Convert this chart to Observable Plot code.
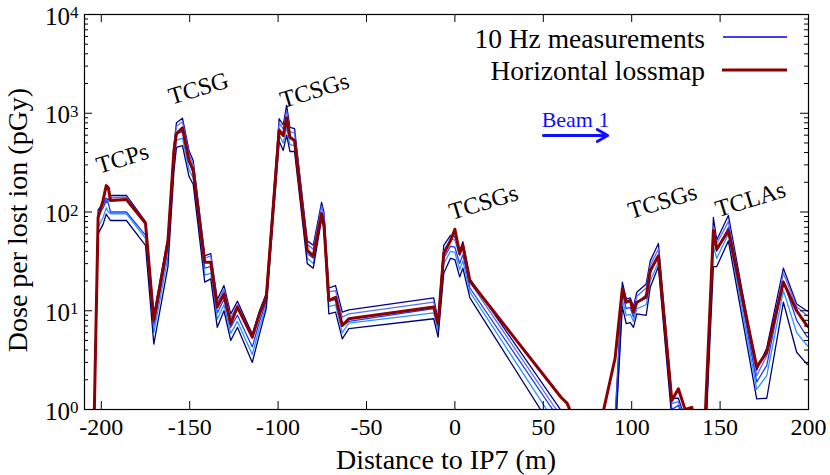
<!DOCTYPE html>
<html><head><meta charset="utf-8">
<script src="https://cdn.jsdelivr.net/npm/d3@7"></script>
<script src="https://cdn.jsdelivr.net/npm/@observablehq/plot@0.6"></script>
<style>
body{margin:0;background:#fff;}
#chart{width:830px;height:475px;}
</style></head><body><div id="chart"></div>
<script>
// BLM positions along the beam line (m from IP7)
const positions = [-204.5,-201.8,-199,-197.2,-196,-194.8,-185.8,-175,-170.3,-162.3,-158.9,-157.5,-154.1,-150.4,-148,-141.5,-138.1,-134.4,-130.6,-126.8,-123,-114.6,-110.5,-106.7,-99.4,-97.1,-95.2,-93.3,-90.7,-83.5,-80.1,-75.4,-74.1,-71.3,-67.5,-63.7,-60,-12,-9.5,-6.3,-2.5,0,2.7,4.5,8.5,60,63.4,65.5,70,80,84,90.6,94.7,96.9,99.2,101,102.9,108.2,110.5,115.1,122.7,126.4,130.2,134,137.5,141.7,146.2,148.1,154.7,170.7,176.4,185.8,193.3,199,200.5];
// Horizontal lossmap (pGy per lost ion)
const lossmap = [0.3,88,131,185,176,131,134,77,8,51,420,620,710,333,264,31,31,10.9,14.8,7.4,10.9,5.4,9.3,13.7,670,595,900,572,530,41,36,96,76,12.7,13.7,7.1,8.3,10.9,7.4,38,51,67,38,46,20,1.33,1.16,0.95,0.1,0.1,0.97,3.3,16.7,12.2,12.7,9.7,12.2,13.7,25.6,36,1.23,1.62,1.0,1.05,0.6,0.95,65,42,65,2.7,3.8,19.5,10,7.1,6.8];
// 10 Hz measurements (five acquisitions)
const meas1 = [0.3,105,122,138,132,147,147,80,9,55,470,800,890,420,330,36,38,13,18,9.3,12.5,5.8,10,15,880,760,1200,720,700,51,46,125,100,17,18,9.7,10.2,13.5,8,46,58,56,40,50,21,0.98,0.8,0.6,0.1,0.1,0.15,0.8,19.5,13.2,13.5,11,15.4,18.7,32,48,1.3,1.3,0.8,0.7,0.5,0.5,88,52,92,2.5,4.2,27,11.7,10,9.8];
const meas2 = [0.3,100,118,135,128,140,141,77,8.5,52,440,740,820,390,300,34,36,12,16.5,8.5,11.5,5.3,9.3,14,800,690,1050,650,630,47,42,115,92,15.5,16,8.6,9.3,12.2,7.4,40,54,52,36,44,19.5,0.85,0.7,0.5,0.1,0.1,0.15,0.7,17,12.5,12.8,10.2,14,17,29,42,1.15,1.2,0.75,0.6,0.5,0.5,70,48,80,2.2,3.5,24,11,9,8.8];
const meas3 = [0.3,92,110,130,122,100,100,58,7,42,360,610,660,320,250,27,28,9.5,13,6.8,9,4.3,7.8,12.5,700,600,860,560,520,38,34,100,80,12.5,13,7,7.8,10.5,6.8,34,45,44,30,37,17,0.75,0.65,0.45,0.1,0.1,0.15,0.6,15,10.5,10.8,8.6,12,14.5,24,36,1.0,1.1,0.7,0.6,0.5,0.5,58,40,70,1.9,2.8,20,8,5.5,5.3];
const meas4 = [0.3,70,88,110,100,96,96,54,6,35,310,530,560,270,220,23,24,8.2,11.5,5.9,7.8,3.6,6.8,11.5,600,500,720,480,470,34,30,92,74,11,11.5,6,7.5,9.5,6.2,30,40,39,26,32,15.5,0.6,0.52,0.4,0.1,0.1,0.15,0.5,13,9,9.2,7.8,10.5,11.5,20,31,0.9,1.0,0.65,0.5,0.5,0.5,45,34,60,1.6,2.2,16,6,4.5,4.3];
const meas5 = [0.3,60,75,95,88,82,82,46,4.6,28,260,450,470,230,190,19.5,21,6.8,10,5,6.8,3.0,5.8,10.5,520,420,600,410,410,30,27,85,68,9.3,9.7,5.2,6.6,8.3,5.4,24,34,33,22,27,13.5,0.47,0.4,0.3,0.1,0.1,0.15,0.5,11,7.4,7.6,6.8,9.3,9,17.3,28,0.8,0.9,0.6,0.5,0.5,0.5,28,28,51,1.28,1.3,12.2,3.8,2.9,2.8];
const measColors = ["#00008f", "#5c6cff", "#1a3cff", "#2b93ff", "#000078"];

// Axis ticks
const xTicks = [-200,-150,-100,-50,0,50,100,150,200];
const yTicks = [1,10,100,1000,10000];
const yTickExponents = ["0","1","2","3","4"];
const yMinorTicks = [2,3,4,5,6,7,8,9,20,30,40,50,60,70,80,90,200,300,400,500,600,700,800,900,2000,3000,4000,5000,6000,7000,8000,9000];

// Collimator annotations
const annLabels = ["TCPs","TCSG","TCSGs","TCSGs","TCSGs","TCLAs"];
const annX = [-188,-145,-79.4,16.2,117.4,167.2];
const annY = [348,1780,1700,125,128,134];

// Beam direction marker
const beamLabel = "Beam 1";
const beamX = [50.1, 86.4];
const beamY = 595;
const beamLabelY = 860;

const W = 830, H = 475, mL = 84, mR = 22, mT = 14, mB = 66;
const pw = W - mL - mR, ph = H - mT - mB;
const font = "Liberation Serif";

const measSeries = [meas1, meas2, meas3, meas4, meas5];
const measMarks = measSeries.map((vals, i) =>
  Plot.line(positions.map((x, j) => ({x, y: vals[j]})), {x: "x", y: "y", stroke: measColors[i], strokeWidth: 1.3, clip: true})
);
const redRows = positions.map((x, j) => ({x, y: lossmap[j]}));
const annRows = annLabels.map((t, i) => ({t, x: annX[i], y: annY[i]}));

const plot = Plot.plot({
  width: W, height: H,
  marginLeft: mL, marginRight: mR, marginTop: mT, marginBottom: mB,
  style: {fontFamily: font, fontSize: "24px", background: "white", color: "black"},
  x: {domain: [-209.5, 200]},
  y: {type: "log", domain: [1, 10000]},
  marks: [
    ...measMarks,
    Plot.line(redRows, {x: "x", y: "y", stroke: "#8b0000", strokeWidth: 3, clip: true}),
    Plot.text(annRows, {x: "x", y: "y", text: "t", rotate: -17, fontSize: 24, fontFamily: font, fill: "black"}),
    Plot.text([beamLabel], {x: (beamX[0] + beamX[1]) / 2, y: beamLabelY, text: d => d, fontSize: 22, fill: "#1010ff"}),
    Plot.arrow([0], {x1: beamX[0], x2: beamX[1], y1: beamY, y2: beamY, stroke: "#1010ff", strokeWidth: 3, headLength: 6, bend: 0}),
    // inward ticks
    Plot.ruleY(yTicks, {y: d => d, insetRight: pw - 8, stroke: "black"}),
    Plot.ruleY(yTicks, {y: d => d, insetLeft: pw - 8, stroke: "black"}),
    Plot.ruleY(yMinorTicks, {y: d => d, insetRight: pw - 4, stroke: "black"}),
    Plot.ruleY(yMinorTicks, {y: d => d, insetLeft: pw - 4, stroke: "black"}),
    Plot.ruleX(xTicks, {x: d => d, insetTop: ph - 8, stroke: "black"}),
    Plot.ruleX(xTicks, {x: d => d, insetBottom: ph - 8, stroke: "black"}),
    Plot.axisX(xTicks, {tickSize: 0, tickPadding: 8, fontSize: 24, label: null, tickFormat: d => String(d)}),
    Plot.axisY(yTicks, {tickSize: 0, tickPadding: 6, fontSize: 25, dy: 2, label: null, tickFormat: (d) => "10^" + yTickExponents[yTicks.indexOf(d)]}),
    Plot.frame({stroke: "black", strokeWidth: 1.2})
  ]
});

const svg = d3.select(plot);
// superscript exponents on y tick labels
svg.selectAll("g[aria-label='y-axis tick label'] text").each(function() {
  const t = d3.select(this);
  const parts = t.text().split("^");
  t.text(parts[0]);
  t.append("tspan").attr("dy", "-0.38em").attr("font-size", "0.68em").text(parts[1]);
});

// axis titles
svg.append("text").attr("x", 446).attr("y", 469).attr("text-anchor", "middle")
  .attr("font-family", font).attr("font-size", 28).attr("fill", "black").text("Distance to IP7 (m)");
svg.append("text").attr("transform", "translate(27,220) rotate(-90)").attr("text-anchor", "middle")
  .attr("font-family", font).attr("font-size", 28).attr("fill", "black").text("Dose per lost ion (pGy)");

// legend
const lg = svg.append("g").attr("font-family", font).attr("font-size", 27.5).attr("fill", "black");
lg.append("text").attr("x", 705).attr("y", 48).attr("text-anchor", "end").text("10 Hz measurements");
lg.append("line").attr("x1", 723).attr("x2", 787).attr("y1", 37).attr("y2", 37).attr("stroke", "#0000ee").attr("stroke-width", 1.5);
lg.append("text").attr("x", 705).attr("y", 80).attr("text-anchor", "end").text("Horizontal lossmap");
lg.append("line").attr("x1", 722).attr("x2", 787).attr("y1", 70).attr("y2", 70).attr("stroke", "#8b0000").attr("stroke-width", 3);

document.getElementById("chart").appendChild(plot);
</script></body></html>
